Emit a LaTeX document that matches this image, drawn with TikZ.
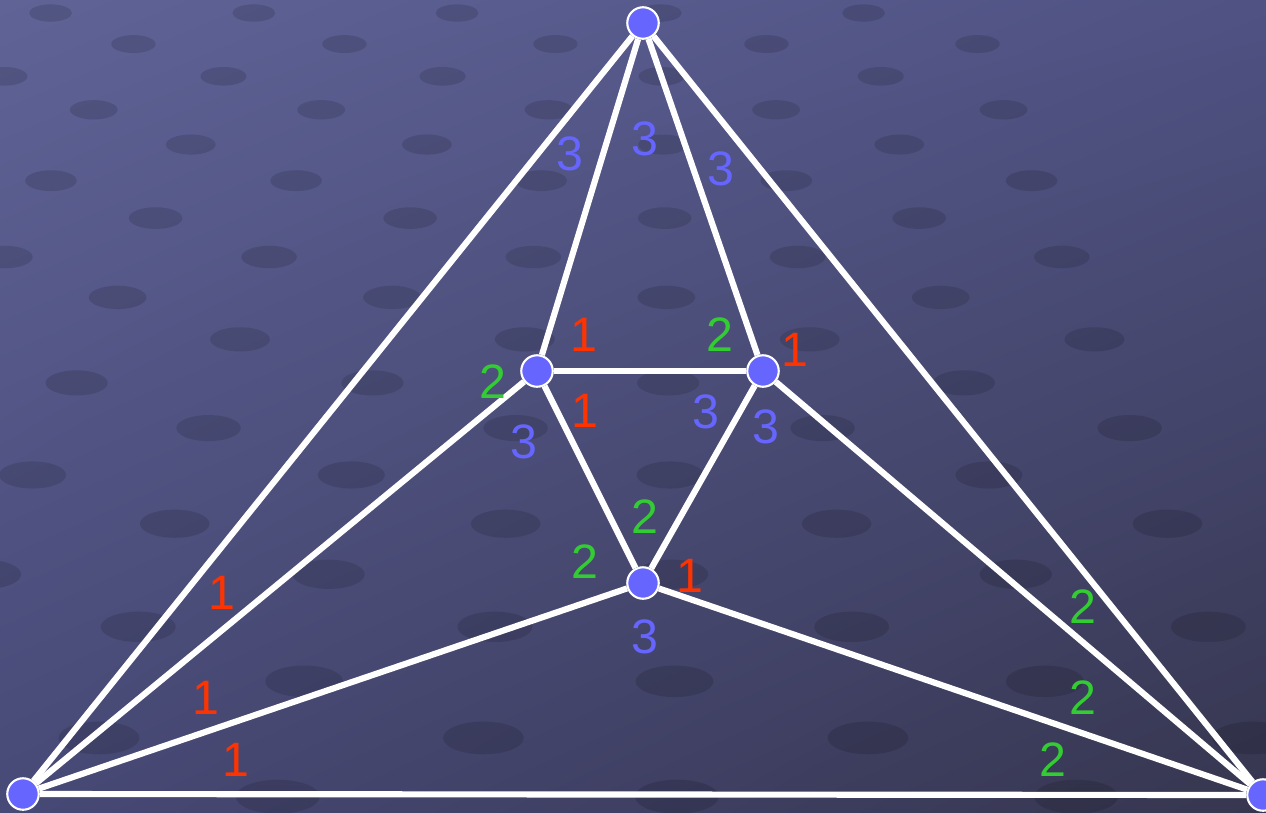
\documentclass[tikz,border=0pt]{standalone}
\usepackage{fontspec}
\setmainfont{Liberation Sans}
\usetikzlibrary{shadings}
\definecolor{lred}{HTML}{FF3300}
\definecolor{lgreen}{HTML}{33CC33}
\definecolor{lblue}{HTML}{6666FF}
\definecolor{bgA}{HTML}{5F6396}
\definecolor{bgB}{HTML}{4F5283}
\definecolor{bgC}{HTML}{474976}
\definecolor{bgD}{HTML}{36364F}
\begin{document}
\begin{tikzpicture}[x=0.02cm,y=-0.02cm,
  vert/.style={circle,fill=lblue,draw=white,line width=1.2pt,minimum size=0.63cm,inner sep=0pt},
  edge/.style={white,line width=3.5pt},
  lab/.style={inner sep=0pt,font=\fontsize{27.5}{27.5}\selectfont},
  r/.style={lab,text=lred},
  g/.style={lab,text=lgreen},
  b/.style={lab,text=lblue}]
\useasboundingbox (0,0) rectangle (1266,812);
\shade[upper left=bgA,upper right=bgB,lower left=bgC,lower right=bgD] (0,0) rectangle (1266,812);
% faint background lattice in perspective
\begin{scope}
\clip (0,0) rectangle (1266,812);
\foreach \q in {0,...,19}{
  \pgfmathsetmacro\yy{813*exp(30*\q/800)-800}
  \pgfmathsetmacro\sc{1+\yy/800}
  \pgfmathtruncatemacro\odd{mod(\q,2)}
  \foreach \p in {-3,...,4}{
    \pgfmathsetmacro\xx{643+(60-643+200*\p+100*\odd)*\sc}
    \fill[black,opacity=0.13] (\xx,\yy) ellipse[x radius=21*\sc,y radius=8.5*\sc];
  }
}
\end{scope}
% vertices
\node[vert] (T) at (643,23) {};
\node[vert] (L) at (537,371) {};
\node[vert] (R) at (763,371) {};
\node[vert] (C) at (643,583) {};
\node[vert] (BL) at (23,794) {};
\node[vert] (BR) at (1263,795) {};
% edges
\draw[edge] (T) -- (BL);
\draw[edge] (T) -- (BR);
\draw[edge] (BL) -- (BR);
\draw[edge] (T) -- (L);
\draw[edge] (T) -- (R);
\draw[edge] (L) -- (R);
\draw[edge] (L) -- (C);
\draw[edge] (R) -- (C);
\draw[edge] (L) -- (BL);
\draw[edge] (R) -- (BR);
\draw[edge] (C) -- (BL);
\draw[edge] (C) -- (BR);
% labels
\node[b] (b1) at (570,154) {3};
\node[b] (b2) at (645,139) {3};
\node[b] (b3) at (721,169) {3};
\node[b] (b4) at (524,442) {3};
\node[b] (b5) at (706,412) {3};
\node[b] (b6) at (766,427) {3};
\node[b] (b7) at (645,637) {3};
\node[r] (r1) at (584,335) {1};
\node[r] (r2) at (795,350) {1};
\node[r] (r3) at (585,411) {1};
\node[r] (r4) at (690,576) {1};
\node[r] (r5) at (222,593) {1};
\node[r] (r6) at (206,698) {1};
\node[r] (r7) at (236,760) {1};
\node[g] (g1) at (720,335) {2};
\node[g] (g2) at (493,382) {2};
\node[g] (g3) at (645,517) {2};
\node[g] (g4) at (585,562) {2};
\node[g] (g5) at (1083,607) {2};
\node[g] (g6) at (1083,698) {2};
\node[g] (g7) at (1053,760) {2};
\end{tikzpicture}
\end{document}
